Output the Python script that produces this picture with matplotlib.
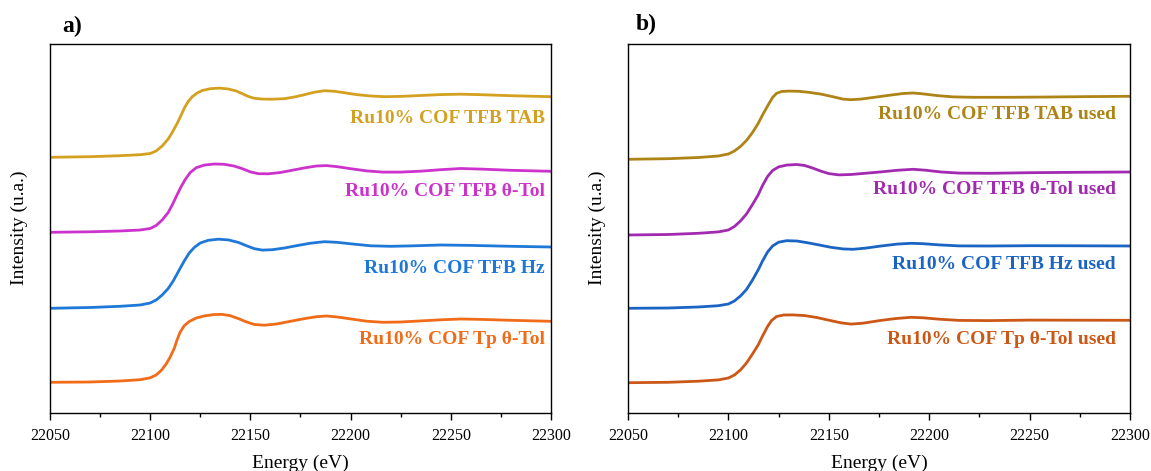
import matplotlib
matplotlib.use("Agg")
import matplotlib.pyplot as plt
from matplotlib.ticker import MultipleLocator

plt.rcParams['font.family'] = ['Liberation Serif', 'DejaVu Serif']

# ---------------- Panel a data (energy in eV, intensity in a.u., stacked) ----------------
e_tab = [22050, 22070, 22085, 22095, 22100, 22103, 22106, 22109, 22111, 22113.5, 22115.5, 22117.2,
         22119, 22121, 22123.5, 22126, 22130, 22134.7, 22139, 22143, 22146, 22149, 22152, 22156,
         22161, 22167, 22172, 22177, 22182, 22187, 22192, 22197, 22203, 22210, 22217, 22225,
         22235, 22245, 22255, 22265, 22280, 22300]
i_tab = [255.2, 255.8, 256.8, 257.8, 259.0, 261.5, 266.5, 273.5, 280.0, 289.2, 297.5, 305.0,
         311.0, 315.8, 319.5, 322.0, 323.8, 324.4, 323.5, 321.5, 318.8, 316.0, 314.2, 313.4,
         313.3, 313.8, 315.5, 317.8, 320.3, 321.8, 321.2, 319.7, 317.9, 316.5, 315.8, 316.1,
         317.0, 317.9, 318.3, 317.8, 316.8, 315.8]

e_tol = [22050, 22070, 22085, 22095, 22100, 22103, 22106, 22109, 22111, 22113.5, 22115.5, 22117.5,
         22120, 22123, 22127, 22132, 22137, 22142, 22146, 22150, 22154, 22159, 22165, 22171,
         22177, 22183, 22188, 22193, 22200, 22208, 22216, 22225, 22235, 22245, 22255, 22265,
         22280, 22300]
i_tol = [180.2, 180.7, 181.5, 182.5, 184.0, 187.0, 192.5, 200.0, 207.5, 218.0, 226.0, 233.0,
         240.0, 244.8, 247.4, 248.5, 248.2, 246.4, 243.8, 240.6, 238.8, 238.7, 240.0, 242.3,
         244.6, 246.5, 246.9, 245.9, 243.8, 241.6, 240.4, 240.4, 241.3, 242.8, 244.0, 243.4,
         242.2, 241.2]

e_hz = [22050, 22070, 22085, 22095, 22100, 22103, 22106, 22109, 22111.5, 22114.5, 22117, 22119.5,
        22122, 22125, 22129, 22134, 22139, 22144, 22148, 22152, 22156, 22161, 22167, 22173,
        22180, 22187, 22193, 22200, 22210, 22220, 22230, 22245, 22260, 22280, 22300]
i_hz = [104.2, 105.0, 106.2, 107.5, 109.5, 112.5, 117.5, 124.0, 131.5, 142.5, 151.5, 159.5,
        165.0, 169.5, 172.2, 173.3, 172.6, 170.1, 166.8, 163.8, 162.4, 162.8, 164.5, 166.8,
        169.3, 170.8, 170.2, 168.7, 166.7, 166.2, 166.6, 167.5, 167.1, 166.2, 165.5]

e_tp = [22050, 22070, 22085, 22095, 22100, 22103, 22105.5, 22108, 22110, 22112, 22113.5, 22115,
        22117, 22119.5, 22123, 22127, 22132, 22136, 22140, 22144, 22148, 22152, 22157, 22163,
        22170, 22177, 22183, 22188, 22193, 22200, 22208, 22216, 22225, 22235, 22245, 22255,
        22265, 22280, 22300]
i_tp = [30.2, 30.5, 31.5, 32.8, 34.7, 37.5, 42.0, 48.5, 55.5, 64.0, 73.0, 80.5,
        86.8, 91.0, 94.5, 96.6, 98.0, 98.1, 96.8, 93.9, 90.6, 88.0, 87.3, 88.5,
        91.2, 93.9, 95.8, 96.5, 95.6, 93.6, 91.3, 90.2, 90.5, 91.6, 92.7, 93.5,
        93.1, 92.2, 91.2]

# ---------------- Panel b data (used samples) ----------------
e_tab_u = [22050, 22070, 22085, 22095, 22100, 22103, 22106, 22109, 22112, 22114.8, 22117, 22119.5,
           22122, 22124, 22126.5, 22130, 22135, 22140, 22146, 22152, 22157, 22161, 22166, 22172,
           22180, 22187, 22192, 22197, 22204, 22212, 22222, 22240, 22260, 22280, 22300]
i_tab_u = [253.2, 253.8, 255.0, 256.5, 258.5, 261.5, 266.0, 272.0, 280.0, 289.0, 297.5, 306.5,
           315.0, 319.2, 321.0, 321.4, 321.2, 320.2, 318.4, 315.8, 313.4, 312.8, 313.4, 315.0,
           317.2, 319.0, 319.5, 318.6, 316.9, 315.6, 315.2, 315.2, 315.5, 315.9, 316.2]

e_tol_u = [22050, 22070, 22085, 22095, 22100, 22103, 22106, 22109, 22112, 22114.8, 22117, 22119.5,
           22122, 22125, 22129, 22134, 22138, 22142, 22146, 22150, 22155, 22161, 22168, 22176,
           22184, 22192, 22198, 22206, 22215, 22230, 22250, 22275, 22300]
i_tol_u = [177.5, 178.0, 179.2, 180.6, 182.5, 186.0, 191.5, 198.5, 208.0, 217.5, 227.0, 236.0,
           242.0, 245.6, 247.4, 248.0, 247.0, 244.4, 241.4, 238.9, 237.6, 238.0, 239.2, 240.6,
           242.2, 243.2, 242.3, 240.5, 239.4, 239.2, 239.8, 240.2, 240.5]

e_hz_u = [22050, 22070, 22085, 22095, 22100, 22103, 22106, 22109, 22112, 22114.8, 22117, 22119.5,
          22122, 22125, 22129, 22134, 22139, 22145, 22151, 22157, 22162, 22168, 22176, 22184,
          22191, 22197, 22205, 22215, 22230, 22250, 22275, 22300]
i_hz_u = [104.2, 104.5, 105.5, 106.8, 108.5, 111.5, 116.5, 123.0, 132.5, 142.5, 151.5, 160.5,
          166.5, 170.3, 171.8, 171.5, 169.9, 167.6, 165.2, 163.6, 163.2, 164.3, 166.5, 168.4,
          169.2, 168.8, 167.6, 166.6, 166.5, 166.8, 166.7, 166.5]

e_tp_u = [22050, 22070, 22085, 22095, 22100, 22103, 22106, 22109, 22112, 22114.8, 22117, 22119.5,
          22121.5, 22124, 22127.5, 22132, 22138, 22144, 22150, 22156, 22161, 22167, 22175, 22183,
          22191, 22197, 22205, 22215, 22230, 22250, 22275, 22300]
i_tp_u = [29.8, 30.2, 31.3, 32.6, 34.5, 37.5, 42.5, 49.5, 58.5, 67.5, 76.5, 86.0,
          92.0, 96.0, 97.5, 97.6, 96.9, 95.0, 92.3, 89.7, 88.4, 89.3, 91.8, 93.9,
          95.2, 94.7, 93.3, 92.1, 91.9, 92.4, 92.3, 92.2]

labels_a = ["Ru10% COF TFB TAB", "Ru10% COF TFB θ-Tol", "Ru10% COF TFB Hz", "Ru10% COF Tp θ-Tol"]
labels_b = ["Ru10% COF TFB TAB used", "Ru10% COF TFB θ-Tol used", "Ru10% COF TFB Hz used",
            "Ru10% COF Tp θ-Tol used"]
label_y_a = [294, 221, 144, 73]
label_y_b = [298, 223, 148, 73]

colors_a = ["#D4A020", "#CC33CC", "#1E78D8", "#F06C18"]
colors_b = ["#AE8416", "#A22AB0", "#1A64C4", "#CC5818"]

series_a = [(e_tab, i_tab), (e_tol, i_tol), (e_hz, i_hz), (e_tp, i_tp)]
series_b = [(e_tab_u, i_tab_u), (e_tol_u, i_tol_u), (e_hz_u, i_hz_u), (e_tp_u, i_tp_u)]

fig = plt.figure(figsize=(11.51, 4.71), dpi=100)
ax_a = fig.add_axes([0.0434, 0.1242, 0.4353, 0.7824])
ax_b = fig.add_axes([0.5456, 0.1242, 0.4362, 0.7824])

for ax, series, labels, ly, cols, lx in [
        (ax_a, series_a, labels_a, label_y_a, colors_a, 22297),
        (ax_b, series_b, labels_b, label_y_b, colors_b, 22293)]:
    for (e, i), lab, yy, c in zip(series, labels, ly, cols):
        ax.plot(e, i, color=c, lw=2.0, solid_joinstyle='round', solid_capstyle='round')
        ax.text(lx, yy, lab, color=c, fontsize=14, fontweight='bold',
                ha='right', va='center')
    ax.set_xlim(22050, 22300)
    ax.set_ylim(0, 368.5)
    ax.xaxis.set_major_locator(MultipleLocator(50))
    ax.xaxis.set_minor_locator(MultipleLocator(25))
    ax.tick_params(axis='x', which='major', direction='out', length=5, width=1,
                   labelsize=11.5, pad=6)
    ax.tick_params(axis='x', which='minor', direction='out', length=3, width=1)
    ax.set_yticks([])
    for s in ax.spines.values():
        s.set_linewidth(1.0)
    ax.set_xlabel("Energy (eV)", fontsize=14, labelpad=8)
    ax.set_ylabel("Intensity (u.a.)", fontsize=14, labelpad=16)

fig.text(62 / 1151, 1 - 26 / 471, "a)", fontsize=17, fontweight='bold', ha='left', va='center')
fig.text(636 / 1151, 1 - 24 / 471, "b)", fontsize=17, fontweight='bold', ha='left', va='center')

fig.savefig("out.png", dpi=100)
